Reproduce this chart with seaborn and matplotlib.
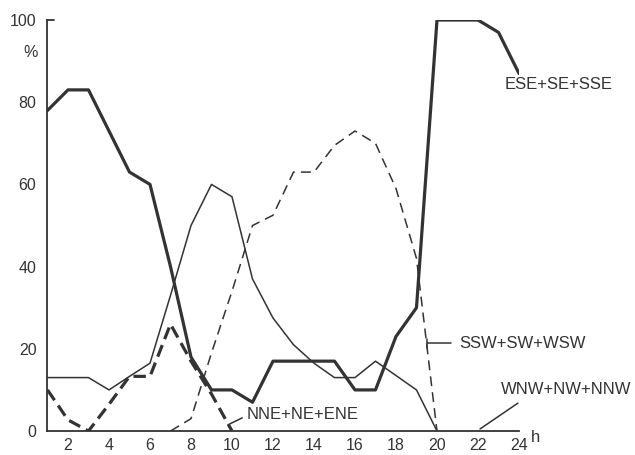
import numpy as np
import pandas as pd
import matplotlib
matplotlib.use("Agg")
import matplotlib.pyplot as plt
import seaborn as sns

nan = np.nan
hours = list(range(1, 25))
ese_se_sse = [78, 83, 83, 73, 63, 60, 40, 18, 10, 10, 7, 17, 17, 17, 17, 10, 10, 23, 30, 100, 100, 100, 97, 87]
wnw_nw_nnw = [13, 13, 13, 10, 13.3, 16.5, 33, 50, 60, 57, 37, 27.5, 21, 16.5, 13, 13, 17, 13.5, 10, 0, nan, nan, nan, nan]
nne_ne_ene = [10, 2.7, 0, 6.5, 13.3, 13.3, 26, 17, 9, 0, nan, nan, nan, nan, nan, nan, nan, nan, nan, nan, nan, nan, nan, nan]
ssw_sw_wsw = [nan, nan, nan, nan, nan, nan, 0, 3, 19, 34, 50, 52.5, 63, 63, 69.5, 73, 70, 59, 42, 0, nan, nan, nan, nan]

x_ticks = [2, 4, 6, 8, 10, 12, 14, 16, 18, 20, 22, 24]
y_ticks = [0, 20, 40, 60, 80, 100]

sns.set_style("white")
plt.rcParams["font.family"] = ["Liberation Sans", "DejaVu Sans"]

ink = "#333333"
fig = plt.figure(figsize=(6.35, 4.55), dpi=100)
ax = fig.add_axes([0.0748, 0.0527, 0.7425, 0.9033])

sns.lineplot(x=hours, y=ese_se_sse, ax=ax, color=ink, linewidth=2.3)
sns.lineplot(x=hours, y=wnw_nw_nnw, ax=ax, color=ink, linewidth=1.1)
sns.lineplot(x=hours, y=nne_ne_ene, ax=ax, color=ink, linewidth=2.3, linestyle=(0, (3.9, 2.0)))
sns.lineplot(x=hours, y=ssw_sw_wsw, ax=ax, color=ink, linewidth=1.1, linestyle=(0, (6.5, 4.0)))

ax.set_xlim(1, 24)
ax.set_ylim(0, 100)
ax.set_xticks(x_ticks)
ax.set_yticks(y_ticks)
ax.set_xticklabels([str(v) for v in x_ticks])
ax.set_yticklabels([str(v) for v in y_ticks])
for s in ["top", "right"]:
    ax.spines[s].set_visible(False)
for s in ["left", "bottom"]:
    ax.spines[s].set_color(ink)
    ax.spines[s].set_linewidth(1.3)
ax.tick_params(axis="x", direction="in", length=6, width=1.3, pad=5, labelsize=11.5, colors=ink)
ax.tick_params(axis="y", direction="out", length=5, width=1.3, pad=3, labelsize=11.5, colors=ink)
ax.yaxis.get_major_ticks()[-1].tick1line.set_visible(False)
ax.plot([1, 1.3], [100, 100], color=ink, lw=1.3, clip_on=False)

lab = dict(color=ink, fontsize=12, clip_on=False)
ax.text(23.3, 84.2, "ESE+SE+SSE", ha="left", va="center", **lab)
ax.text(21.1, 21.4, "SSW+SW+WSW", ha="left", va="center", **lab)
ax.text(23.1, 10.0, "WNW+NW+NNW", ha="left", va="center", **lab)
ax.text(10.7, 3.9, "NNE+NE+ENE", ha="left", va="center", **lab)
ax.text(24.8, -1.5, "h", ha="center", va="center", **lab)
ax.text(0.15, 92, "%", ha="center", va="center", color=ink, fontsize=11.5, clip_on=False)

# leader lines
ax.plot([19.5, 20.7], [21.4, 21.4], color=ink, lw=1.1, clip_on=False)
ax.plot([19.5, 19.5], [20.3, 22.5], color=ink, lw=1.1, clip_on=False)
ax.plot([23.95, 22.1], [6.8, 0.5], color=ink, lw=1.1, clip_on=False)
ax.plot([9.8, 10.5], [1.5, 3.2], color=ink, lw=1.1, clip_on=False)

fig.savefig("out.png", dpi=100, facecolor="white")
